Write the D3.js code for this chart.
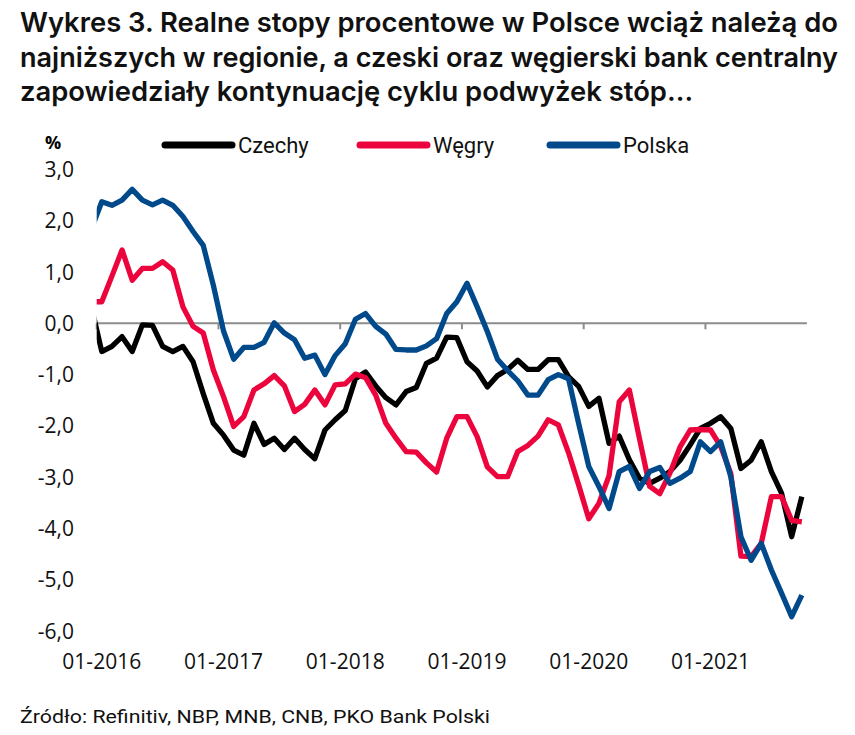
<!DOCTYPE html>
<html><head><meta charset="utf-8">
<script src="https://cdn.jsdelivr.net/npm/d3@7"></script>
<style>body{margin:0;background:#fff}svg{display:block}</style>
</head><body>
<script>
// ---- DATA ----
const monthStart = new Date(2015, 11, 1), monthEnd = new Date(2021, 10, 1);
const categories = d3.timeMonth.range(monthStart, monthEnd); // 12-2015 .. 10-2021
const seriesNames = ["Czechy", "Węgry", "Polska"];
const czechy = [0.3,-0.55,-0.45,-0.26,-0.55,-0.03,-0.04,-0.45,-0.55,-0.45,-0.75,-1.37,-1.95,-2.18,-2.47,-2.57,-1.95,-2.36,-2.24,-2.46,-2.24,-2.46,-2.64,-2.08,-1.88,-1.70,-1.08,-0.95,-1.22,-1.45,-1.59,-1.33,-1.25,-0.78,-0.68,-0.27,-0.28,-0.75,-0.93,-1.24,-1.02,-0.90,-0.72,-0.90,-0.90,-0.71,-0.71,-1.04,-1.23,-1.62,-1.46,-2.34,-2.20,-2.66,-3.02,-3.12,-3.02,-2.89,-2.67,-2.37,-2.05,-1.95,-1.82,-2.05,-2.83,-2.67,-2.31,-2.89,-3.31,-4.16,-3.38];
const wegry = [0.42,0.42,0.92,1.43,0.84,1.07,1.07,1.20,1.04,0.32,-0.06,-0.19,-0.91,-1.43,-2.01,-1.82,-1.30,-1.18,-1.02,-1.22,-1.72,-1.58,-1.30,-1.59,-1.20,-1.18,-0.99,-1.06,-1.40,-1.95,-2.24,-2.50,-2.51,-2.72,-2.90,-2.24,-1.82,-1.82,-2.21,-2.80,-2.99,-2.99,-2.50,-2.38,-2.20,-1.88,-1.98,-2.52,-3.15,-3.81,-3.51,-2.97,-1.53,-1.30,-2.25,-3.18,-3.32,-2.92,-2.41,-2.08,-2.07,-2.08,-2.40,-2.93,-4.54,-4.55,-4.29,-3.38,-3.38,-3.84,-3.87];
const polska = [1.85,2.37,2.30,2.40,2.61,2.40,2.31,2.40,2.30,2.08,1.79,1.52,0.74,-0.15,-0.70,-0.47,-0.47,-0.37,0.01,-0.19,-0.32,-0.68,-0.62,-1.00,-0.63,-0.40,0.08,0.19,-0.06,-0.21,-0.51,-0.52,-0.52,-0.44,-0.30,0.19,0.42,0.78,0.32,-0.16,-0.70,-0.92,-1.12,-1.40,-1.40,-1.10,-1.00,-1.08,-1.95,-2.79,-3.18,-3.61,-2.89,-2.79,-3.22,-2.89,-2.81,-3.12,-3.02,-2.89,-2.31,-2.50,-2.31,-2.99,-4.16,-4.62,-4.29,-4.81,-5.26,-5.72,-5.30];
const yTicks = [3,2,1,0,-1,-2,-3,-4,-5,-6];
const xTickYears = [2016,2017,2018,2019,2020,2021];
const titleLines = ["Wykres 3. Realne stopy procentowe w Polsce wciąż należą do",
  "najniższych w regionie, a czeski oraz węgierski bank centralny",
  "zapowiedziały kontynuację cyklu podwyżek stóp…"];
const sourceText = "Źródło: Refinitiv, NBP, MNB, CNB, PKO Bank Polski";
const colors = ["#000000", "#ec053d", "#004a8c"];

// ---- CHART ----
const W = 855, H = 735;
const plotL = 96.7, plotR = 806.9;
const svg = d3.select("body").append("svg").attr("width", W).attr("height", H);

const x = d3.scaleBand().domain(categories.map(d => +d))
  .range([plotL - (plotR - plotL) / 70, plotR]).padding(0);
const cx = d => x(+d) + x.bandwidth() / 2;
const y = d3.scaleLinear().domain([-6, 3]).range([631.1, 169.4]);

// title
const titleFont = "Inter, Roboto, sans-serif";
const tl = svg.append("g").selectAll("text").data(titleLines).join("text")
  .attr("x", 20).attr("y", (d, i) => 32 + i * 34.5)
  .attr("font-family", titleFont).attr("font-weight", 600).attr("font-size", 27.5)
  .attr("fill", "#111").text(d => d);
const n0 = tl.nodes()[0].getComputedTextLength();
const ratio = 818 / n0;
tl.each(function (d, i) {
  const n = this.getComputedTextLength();
  d3.select(this).attr("textLength", i < 2 ? 818 : n * ratio).attr("lengthAdjust", "spacingAndGlyphs");
});

// % label
svg.append("text").attr("x", 45).attr("y", 149).attr("font-family", "'Open Sans', sans-serif")
  .attr("font-weight", 700).attr("font-size", 18).text("%");

// legend
const legendFont = "Roboto, sans-serif";
const legX = [165, 360, 550];
const lg = svg.append("g").selectAll("g").data(seriesNames).join("g");
lg.append("line").attr("x1", (d, i) => legX[i]).attr("x2", (d, i) => legX[i] + 67)
  .attr("y1", 145).attr("y2", 145).attr("stroke", (d, i) => colors[i])
  .attr("stroke-width", 7).attr("stroke-linecap", "round");
lg.append("text").attr("x", (d, i) => legX[i] + 73).attr("y", 152.5)
  .attr("font-family", legendFont).attr("font-size", 22).attr("fill", "#111").text(d => d);

// y labels
svg.append("g").selectAll("text").data(yTicks).join("text")
  .attr("x", 74).attr("y", d => y(d)).attr("dy", "0.36em").attr("text-anchor", "end")
  .attr("font-family", "'Open Sans', sans-serif").attr("font-size", 21).attr("fill", "#111")
  .text(d => d3.format(".1f")(d).replace(".", ",").replace("−", "-"));

// zero axis
svg.append("line").attr("x1", plotL).attr("x2", plotR).attr("y1", y(0)).attr("y2", y(0))
  .attr("stroke", "#8c8c8c").attr("stroke-width", 2);
const janDates = xTickYears.map(yr => new Date(yr, 0, 1));
svg.append("g").selectAll("line").data(janDates).join("line")
  .attr("x1", d => x(+d)).attr("x2", d => x(+d)).attr("y1", y(0)).attr("y2", y(0) + 6)
  .attr("stroke", "#8c8c8c").attr("stroke-width", 2);

// x labels
svg.append("g").selectAll("text").data(janDates).join("text")
  .attr("x", d => cx(d)).attr("y", 669).attr("text-anchor", "middle")
  .attr("font-family", "'Open Sans', sans-serif").attr("font-size", 21).attr("fill", "#111")
  .text(d => d3.timeFormat("%m-%Y")(d));

// lines
svg.append("clipPath").attr("id", "clip").append("rect")
  .attr("x", plotL).attr("y", 0).attr("width", plotR - plotL).attr("height", H);
const line = d3.line().x(d => cx(d.date)).y(d => y(d.v));
const allSeries = [czechy, wegry, polska];
svg.append("g").attr("clip-path", "url(#clip)").selectAll("path").data(allSeries).join("path")
  .attr("d", s => line(s.map((v, i) => ({ date: categories[i], v }))))
  .attr("fill", "none").attr("stroke", (d, i) => colors[i]).attr("stroke-width", 5.3)
  .attr("stroke-linejoin", "round").attr("stroke-linecap", "butt");

// source
svg.append("text").attr("x", 20).attr("y", 723)
  .attr("font-family", legendFont).attr("font-size", 18).attr("fill", "#111").text(sourceText)
  .attr("textLength", 470).attr("lengthAdjust", "spacingAndGlyphs");
</script>
</body></html>
